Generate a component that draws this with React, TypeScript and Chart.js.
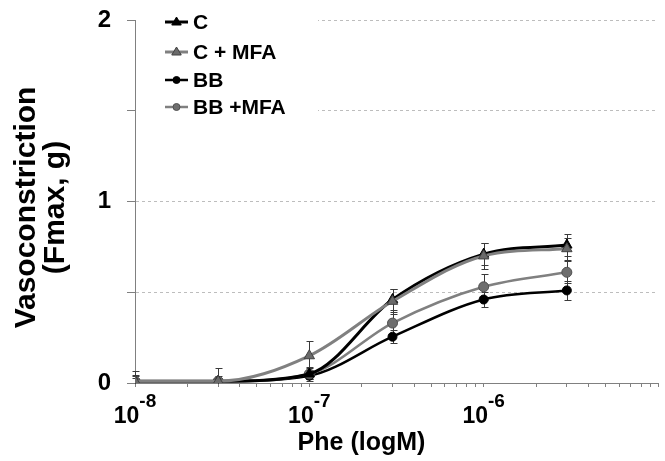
import React, { useEffect, useRef } from "react";
import { Chart, registerables } from "chart.js";

Chart.register(...registerables);

// ---- data ----
const concentrations = [1e-8, 3e-8, 1e-7, 3e-7, 1e-6, 3e-6];
const seriesNames = ["C", "C + MFA", "BB", "BB +MFA"];
const valuesC = [0.01, 0.01, 0.05, 0.46, 0.71, 0.76];
const valuesCMFA = [0.01, 0.01, 0.15, 0.45, 0.7, 0.74];
const valuesBB = [0.01, 0.01, 0.04, 0.255, 0.46, 0.51];
const valuesBBMFA = [0.01, 0.01, 0.05, 0.33, 0.53, 0.61];
const errC = [0.03, 0.02, 0.04, 0.06, 0.06, 0.06];
const errCMFA = [0.055, 0.07, 0.08, 0.07, 0.07, 0.06];
const errBB = [0.02, 0.02, 0.02, 0.035, 0.04, 0.05];
const errBBMFA = [0.035, 0.03, 0.03, 0.06, 0.07, 0.06];
const yTickLabels = ["0", "1", "2"];
const xDecadeExponents = [-8, -7, -6];
const xTitle = "Phe (logM)";
const yTitle = ["Vasoconstriction", "(Fmax, g)"];

const FONT = "'Liberation Sans', Arial, sans-serif";

type SeriesStyle = {
  line: string;
  width: number;
  shape: "triangle" | "circle";
  radius: number;
  fill: string;
  stroke: string;
  order: number;
};

const styles: SeriesStyle[] = [
  { line: "#000000", width: 3, shape: "triangle", radius: 6, fill: "#000000", stroke: "#000000", order: 2 },
  { line: "#808080", width: 3, shape: "triangle", radius: 6, fill: "#6a6a6a", stroke: "#404040", order: 1 },
  { line: "#000000", width: 2.5, shape: "circle", radius: 4.5, fill: "#000000", stroke: "#000000", order: 4 },
  { line: "#808080", width: 2.5, shape: "circle", radius: 5, fill: "#6e6e6e", stroke: "#505050", order: 3 },
];

const seriesValues = [valuesC, valuesCMFA, valuesBB, valuesBBMFA];
const seriesErrors = [errC, errCMFA, errBB, errBBMFA];

function buildXTicks() {
  const t: { value: number }[] = [];
  for (let e = -8; e <= -6; e++) {
    for (let k = 1; k <= 9; k++) t.push({ value: k * Math.pow(10, e) });
  }
  t.push({ value: 1e-5 });
  return t;
}

const errorBarPlugin = {
  id: "errorBars",
  beforeDatasetsDraw(chart: any) {
    const { ctx, scales } = chart;
    const x = scales.x;
    const y = scales.y;
    ctx.save();
    ctx.strokeStyle = "#3a3a3a";
    ctx.lineWidth = 1;
    seriesValues.forEach((vals, si) => {
      vals.forEach((v, i) => {
        const e = seriesErrors[si][i];
        const px = Math.round(x.getPixelForValue(concentrations[i])) + 0.5;
        const top = Math.round(y.getPixelForValue(v + e)) + 0.5;
        const lowVal = Math.max(0, v - e);
        const bottom = Math.round(y.getPixelForValue(lowVal)) + 0.5;
        ctx.beginPath();
        ctx.moveTo(px, top);
        ctx.lineTo(px, bottom);
        ctx.moveTo(px - 3, top);
        ctx.lineTo(px + 4, top);
        if (v - e > 0) {
          ctx.moveTo(px - 3, bottom);
          ctx.lineTo(px + 4, bottom);
        }
        ctx.stroke();
      });
    });
    ctx.restore();
  },
};

function drawMarker(ctx: CanvasRenderingContext2D, s: SeriesStyle, cx: number, cy: number, r: number) {
  ctx.fillStyle = s.fill;
  ctx.strokeStyle = s.stroke;
  ctx.lineWidth = 1;
  ctx.beginPath();
  if (s.shape === "triangle") {
    ctx.moveTo(cx, cy - r);
    ctx.lineTo(cx + r * 0.95, cy + r * 0.6);
    ctx.lineTo(cx - r * 0.95, cy + r * 0.6);
    ctx.closePath();
  } else {
    ctx.arc(cx, cy, r, 0, Math.PI * 2);
  }
  ctx.fill();
  ctx.stroke();
}

const textPlugin = {
  id: "texts",
  afterDraw(chart: any) {
    const { ctx, chartArea, scales } = chart;
    const x = scales.x;
    ctx.save();

    // legend background & items
    ctx.fillStyle = "#ffffff";
    ctx.fillRect(chartArea.left + 1, chartArea.top - 12, 182, 112);
    const rowOffsets = [2, 32, 60, 87];
    seriesNames.forEach((name, i) => {
      const s = styles[i];
      const cy = chartArea.top + rowOffsets[i];
      ctx.strokeStyle = s.line;
      ctx.lineWidth = s.width;
      ctx.beginPath();
      ctx.moveTo(chartArea.left + 30, cy);
      ctx.lineTo(chartArea.left + 53, cy);
      ctx.stroke();
      drawMarker(ctx, s, chartArea.left + 41.5, cy, s.shape === "triangle" ? 5 : 3.5);
      ctx.fillStyle = "#000";
      ctx.font = `bold 21px ${FONT}`;
      ctx.textAlign = "left";
      ctx.textBaseline = "middle";
      ctx.fillText(name, chartArea.left + 58, cy + 1);
    });

    // x tick labels with superscript
    ctx.fillStyle = "#000";
    ctx.textBaseline = "alphabetic";
    xDecadeExponents.forEach((ex) => {
      const px = x.getPixelForValue(Math.pow(10, ex));
      ctx.font = `bold 23px ${FONT}`;
      const wBase = ctx.measureText("10").width;
      ctx.font = `bold 19px ${FONT}`;
      const sup = "-" + String(-ex);
      const wSup = ctx.measureText(sup).width;
      const start = px - (wBase + wSup) / 2;
      ctx.font = `bold 23px ${FONT}`;
      ctx.textAlign = "left";
      ctx.fillText("10", start, chartArea.bottom + 40);
      ctx.font = `bold 19px ${FONT}`;
      ctx.fillText(sup, start + wBase, chartArea.bottom + 24);
    });

    // x title
    ctx.font = `bold 25px ${FONT}`;
    ctx.textAlign = "center";
    ctx.fillText(xTitle, (chartArea.left + chartArea.right) / 2 - 35, chartArea.bottom + 67);

    // y title (rotated, two lines)
    const cyMid = (chartArea.top + chartArea.bottom) / 2 + 6;
    ctx.font = `bold 30px ${FONT}`;
    [35, 64].forEach((bx, i) => {
      ctx.save();
      ctx.translate(bx, cyMid);
      ctx.rotate(-Math.PI / 2);
      ctx.textAlign = "center";
      ctx.fillText(yTitle[i], 0, 0);
      ctx.restore();
    });

    ctx.restore();
  },
};

export default function App() {
  const ref = useRef<HTMLCanvasElement | null>(null);

  useEffect(() => {
    if (!ref.current) return;
    const datasets = seriesNames.map((name, si) => {
      const s = styles[si];
      return {
        label: name,
        data: concentrations.map((c, i) => ({ x: c, y: seriesValues[si][i] })),
        borderColor: s.line,
        borderWidth: s.width,
        backgroundColor: s.fill,
        pointStyle: s.shape,
        pointRadius: s.radius,
        pointBackgroundColor: s.fill,
        pointBorderColor: s.stroke,
        pointBorderWidth: 1,
        cubicInterpolationMode: "monotone" as const,
        fill: false,
        order: s.order,
      };
    });

    const chart = new Chart(ref.current, {
      type: "line",
      data: { datasets },
      plugins: [errorBarPlugin, textPlugin],
      options: {
        animation: false,
        responsive: false,
        maintainAspectRatio: false,
        layout: { padding: { top: 20, right: 1, left: 0, bottom: 0 } },
        plugins: { legend: { display: false }, tooltip: { enabled: false }, title: { display: false } },
        scales: {
          x: {
            type: "logarithmic",
            min: 1e-8,
            max: 1e-5,
            afterBuildTicks: (axis: any) => {
              axis.ticks = buildXTicks();
            },
            afterFit: (axis: any) => {
              axis.height = 78;
              axis.paddingLeft = 0;
              axis.paddingRight = 0;
            },
            ticks: { display: false },
            grid: { drawOnChartArea: false, drawTicks: true, tickLength: 4, tickColor: "#808080" },
            border: { color: "#808080", width: 1 },
          },
          y: {
            min: 0,
            max: 2,
            afterFit: (axis: any) => {
              axis.width = 135;
              axis.paddingTop = 0;
              axis.paddingBottom = 0;
            },
            ticks: {
              stepSize: 0.5,
              padding: 16,
              color: "#000",
              font: { family: FONT, size: 24, weight: "bold" },
              callback: (v: any) => {
                const s = String(v);
                return yTickLabels.includes(s) ? s : "";
              },
            },
            grid: {
              color: (ctx: any) => (ctx.tick && ctx.tick.value === 0 ? "rgba(0,0,0,0)" : "#bdbdbd"),
              tickColor: "#808080",
              tickLength: 8,
              lineWidth: 1,
            },
            border: { color: "#808080", width: 1, dash: [3, 3] },
          },
        },
      },
    } as any);
    return () => chart.destroy();
  }, []);

  return (
    <div style={{ position: "fixed", left: 0, top: 0, width: 665, height: 461, background: "#fff" }}>
      <canvas ref={ref} width={665} height={461} style={{ display: "block" }} />
    </div>
  );
}
